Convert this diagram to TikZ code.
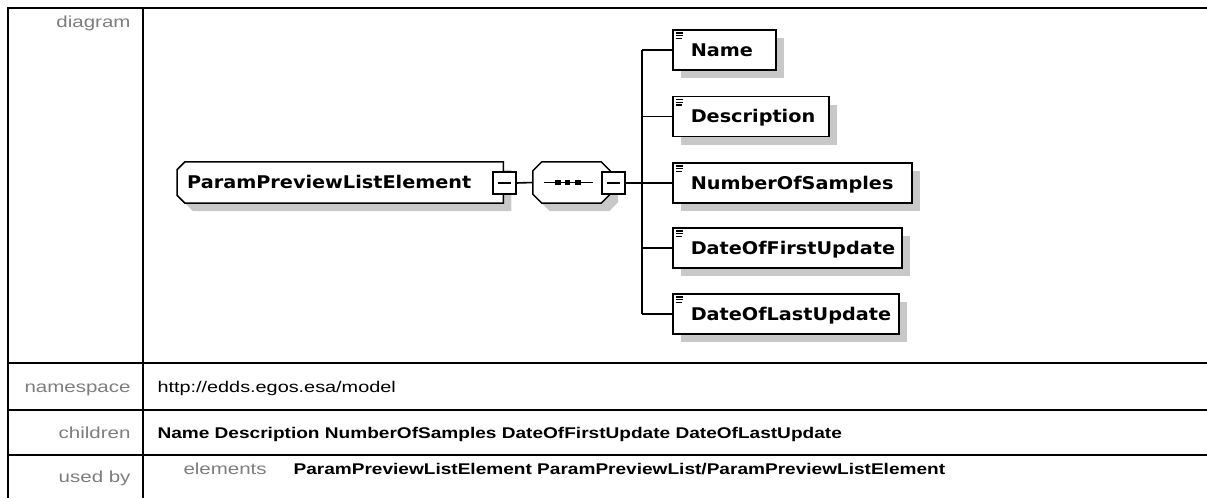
\documentclass[tikz,border=0pt]{standalone}
\usepackage{fontspec}
\setmainfont{Liberation Sans}[FakeStretch=1.28]
\newfontfamily\boldnarrow{Liberation Sans}[FakeStretch=1.23]
\newfontfamily\boxfont{DejaVu Sans}[FakeStretch=1.1]
\usetikzlibrary{shadows,backgrounds}
\definecolor{shadowgray}{RGB}{200,200,200}
\definecolor{labelgray}{RGB}{125,125,125}
\tikzset{
  frame/.style={line width=2pt},
  boxline/.style={draw=black, line width=1.5pt},
  shadeeight/.style={drop shadow={shadow xshift=8pt, shadow yshift=-8pt, fill=shadowgray, opacity=1}},
  boxtext/.style={font=\boxfont\bfseries\fontsize{17.5}{20}\selectfont},
  elem/.style={boxline, fill=white, shadeeight, boxtext, anchor=west,
    minimum height=40pt, inner xsep=0pt, inner ysep=0pt, align=left,
    text width=#1, text height=12.5pt, text depth=0pt,
    path picture={
      \draw[line width=1.2pt]
        ([xshift=3pt,yshift=-3pt]path picture bounding box.north west) -- ++(7pt,0pt)
        ([xshift=3pt,yshift=-5.7pt]path picture bounding box.north west) -- ++(7pt,0pt)
        ([xshift=3pt,yshift=-8.4pt]path picture bounding box.north west) -- ++(6pt,0pt);
    }},
  minusbox/.style={draw=black, line width=1.4pt, fill=white, minimum width=23pt,
    minimum height=22pt, inner sep=0pt,
    path picture={
      \draw[line width=1.3pt]
        ([xshift=5pt]path picture bounding box.west) -- ([xshift=-5pt]path picture bounding box.east);
    },
    append after command={
      [line width=2pt] ([xshift=1.5pt,yshift=1pt]\tikzlastnode.north east)
        -- ([xshift=1.5pt,yshift=-1.5pt]\tikzlastnode.south east)
        -- ([xshift=-1pt,yshift=-1.5pt]\tikzlastnode.south west)
    }},
  lbl/.style={anchor=base east, text=labelgray, font=\fontsize{16}{18}\selectfont},
  val/.style={anchor=base west, font=\fontsize{15.5}{18}\selectfont},
  valbold/.style={anchor=base west, font=\boldnarrow\bfseries\fontsize{15.5}{18}\selectfont},
  conn/.style={line width=1.6pt},
}
\begin{document}
\begin{tikzpicture}[x=1pt,y=-1pt]
\useasboundingbox (0,0) rectangle (1207,498);

% table frame
\draw[frame] (1207,8) -- (8,8) -- (8,498);
\draw[frame] (143,8) -- (143,498);
\draw[frame] (8,363) -- (1207,363);
\draw[frame] (8,410) -- (1207,410);
\draw[frame] (8,455) -- (1207,455);

% row labels
\node[lbl] (lDiagram) at (134,27) {diagram};
\node[lbl] (lNamespace) at (134,392) {namespace};
\node[lbl] (lChildren) at (134,438) {children};
\node[lbl] (lUsedBy) at (134,482) {used by};

% row contents
\node[val] (vNamespace) at (154,392) {http://edds.egos.esa/model};
\node[valbold] (vChildren) at (154,438) {Name Description NumberOfSamples DateOfFirstUpdate DateOfLastUpdate};
\node[lbl, anchor=base west] (vElements) at (180,474) {elements};
\node[valbold] (vUsedBy) at (290,474) {ParamPreviewListElement ParamPreviewList/ParamPreviewListElement};

% root element
\node[boxtext, anchor=west, minimum height=41pt, inner xsep=0pt, inner ysep=0pt,
      text width=326pt, align=left, text height=12.5pt, text depth=0pt]
  (root) at (177,182.5) {\noindent\hspace*{10pt}ParamPreviewListElement};

% sequence compositor
\node[minimum width=77pt, minimum height=41pt, inner sep=0pt] (seq) at (571.5,182.5) {};

\begin{scope}[on background layer]
  \filldraw[boxline, fill=white, shadeeight]
    ([xshift=8pt]root.north west) -- (root.north east) -- (root.south east)
    -- ([xshift=8pt]root.south west) -- ([yshift=8pt]root.south west)
    -- ([yshift=-8pt]root.north west) -- cycle;
  \filldraw[boxline, fill=white, shadeeight]
    ([xshift=9pt]seq.north west) -- ([xshift=-9pt]seq.north east)
    -- ([yshift=-9pt]seq.north east) -- ([yshift=9pt]seq.south east)
    -- ([xshift=-9pt]seq.south east) -- ([xshift=9pt]seq.south west)
    -- ([yshift=9pt]seq.south west) -- ([yshift=-9pt]seq.north west) -- cycle;
\end{scope}

% sequence symbol
\draw[line width=1.3pt] ([xshift=11pt]seq.west) -- ([xshift=-17pt]seq.east);
\foreach \dx in {-13.5,-4,6.5}
  \fill ([xshift=\dx pt]seq.center) ++(-2.8pt,-2.8pt) rectangle ++(5.6pt,5.6pt);

% expand buttons
\node[minusbox] (m1) at (504.5,183) {};
\node[minusbox] (m2) at (613.5,183) {};

% child elements
\node[elem=103pt] (cName) at (672,50) {\noindent\hspace*{18pt}Name};
\node[elem=156pt] (cDesc) at (672,116.5) {\noindent\hspace*{18pt}Description};
\node[elem=239pt] (cNum) at (672,183) {\noindent\hspace*{18pt}NumberOfSamples};
\node[elem=229pt] (cFirst) at (672,248) {\noindent\hspace*{18pt}DateOfFirstUpdate};
\node[elem=226pt] (cLast) at (672,314) {\noindent\hspace*{18pt}DateOfLastUpdate};

% connectors
\coordinate (fork) at (642,183);
\draw[conn] (m1.east) -- (seq.west);
\draw[conn] (m2.east) -- (fork);
\draw[conn] (fork |- cName.west) -- (fork |- cLast.west);
\foreach \c in {cName,cDesc,cNum,cFirst,cLast}
  \draw[conn] (fork |- \c.west) -- (\c.west);
\end{tikzpicture}
\end{document}
